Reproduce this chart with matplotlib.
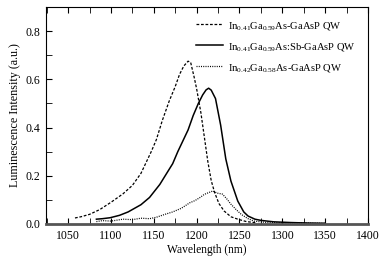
import matplotlib
matplotlib.use('Agg')
import matplotlib.pyplot as plt
from matplotlib.ticker import MultipleLocator

plt.rcParams['font.family'] = ['Liberation Serif', 'DejaVu Serif']
plt.rcParams['mathtext.fontset'] = 'custom'
plt.rcParams['mathtext.rm'] = 'Liberation Serif'
plt.rcParams['mathtext.it'] = 'Liberation Serif:italic'

# In0.41Ga0.59As-GaAsP QW (dashed)
wl_a = [1058, 1065, 1075, 1087, 1100, 1114, 1125, 1135, 1147, 1153, 1160, 1168, 1175, 1180,
        1185, 1190, 1193, 1197, 1200, 1205, 1209, 1213, 1217, 1221, 1226, 1232, 1240, 1248,
        1258, 1270]
int_a = [0.025, 0.03, 0.04, 0.06, 0.09, 0.125, 0.16, 0.21, 0.30, 0.35, 0.43, 0.51, 0.57, 0.62,
         0.655, 0.675, 0.67, 0.61, 0.56, 0.46, 0.36, 0.26, 0.18, 0.13, 0.085, 0.054, 0.03, 0.02,
         0.01, 0.005]

# In0.41Ga0.59As:Sb-GaAsP QW (solid)
wl_b = [1083, 1090, 1099, 1110, 1120, 1126, 1135, 1145, 1157, 1165, 1172, 1178, 1184, 1190,
        1196, 1202, 1207, 1211, 1214, 1217, 1222, 1228, 1234, 1240, 1248, 1255, 1260, 1268,
        1275, 1290, 1310, 1330, 1350]
int_b = [0.02, 0.022, 0.026, 0.036, 0.05, 0.062, 0.08, 0.11, 0.164, 0.21, 0.25, 0.30, 0.345,
         0.39, 0.45, 0.50, 0.535, 0.556, 0.563, 0.555, 0.52, 0.41, 0.27, 0.178, 0.095, 0.05,
         0.033, 0.02, 0.015, 0.009, 0.006, 0.004, 0.003]

# In0.42Ga0.58As-GaAsP QW (dotted)
wl_c = [1083, 1090, 1100, 1114, 1125, 1135, 1145, 1153, 1163, 1172, 1182, 1192, 1198, 1204,
        1209, 1214, 1219, 1224, 1230, 1235, 1240, 1246, 1252, 1260, 1267, 1280, 1300, 1320,
        1350]
int_c = [0.01, 0.014, 0.012, 0.02, 0.018, 0.024, 0.022, 0.028, 0.04, 0.05, 0.065, 0.088, 0.097,
         0.11, 0.123, 0.13, 0.137, 0.128, 0.124, 0.105, 0.082, 0.06, 0.04, 0.022, 0.012, 0.007,
         0.005, 0.004, 0.003]

labels = [r'In$_{0.41}$Ga$_{0.59}$As-GaAsP QW',
          r'In$_{0.41}$Ga$_{0.59}$As:Sb-GaAsP QW',
          r'In$_{0.42}$Ga$_{0.58}$As-GaAsP QW']

fig = plt.figure(figsize=(3.79, 2.56), dpi=100)
ax = fig.add_axes([0.121, 0.125, 0.850, 0.848])

ax.plot(wl_a, int_a, color='black', linestyle=(0, (2.2, 1.4)), linewidth=0.9, label=labels[0])
ax.plot(wl_b, int_b, color='black', linestyle='-', linewidth=1.1, label=labels[1])
ax.plot(wl_c, int_c, color='black', linestyle=(0, (0.8, 1.0)), linewidth=0.9, label=labels[2])

ax.set_xlim(1024, 1400)
ax.set_ylim(0, 0.9)
ax.xaxis.set_major_locator(MultipleLocator(50))
ax.xaxis.set_minor_locator(MultipleLocator(25))
ax.yaxis.set_major_locator(MultipleLocator(0.2))
ax.yaxis.set_minor_locator(MultipleLocator(0.1))
ax.tick_params(which='both', direction='in', top=True, right=False, labelsize=8.5, pad=4)
ax.tick_params(which='major', length=4)
ax.tick_params(which='minor', length=4)
ax.spines['bottom'].set_linewidth(2.0)
ax.spines['bottom'].set_color('#555555')

ax.set_xlabel('Wavelength (nm)', fontsize=8.3, labelpad=2)
ax.set_ylabel('Luminescence Intensity (a.u.)', fontsize=8.7, labelpad=3)

ax.legend(loc='upper right', frameon=False, fontsize=7.6, handlelength=2.6,
          handletextpad=0.4, labelspacing=0.85, borderaxespad=0.8)

fig.savefig('out.png', dpi=100)
